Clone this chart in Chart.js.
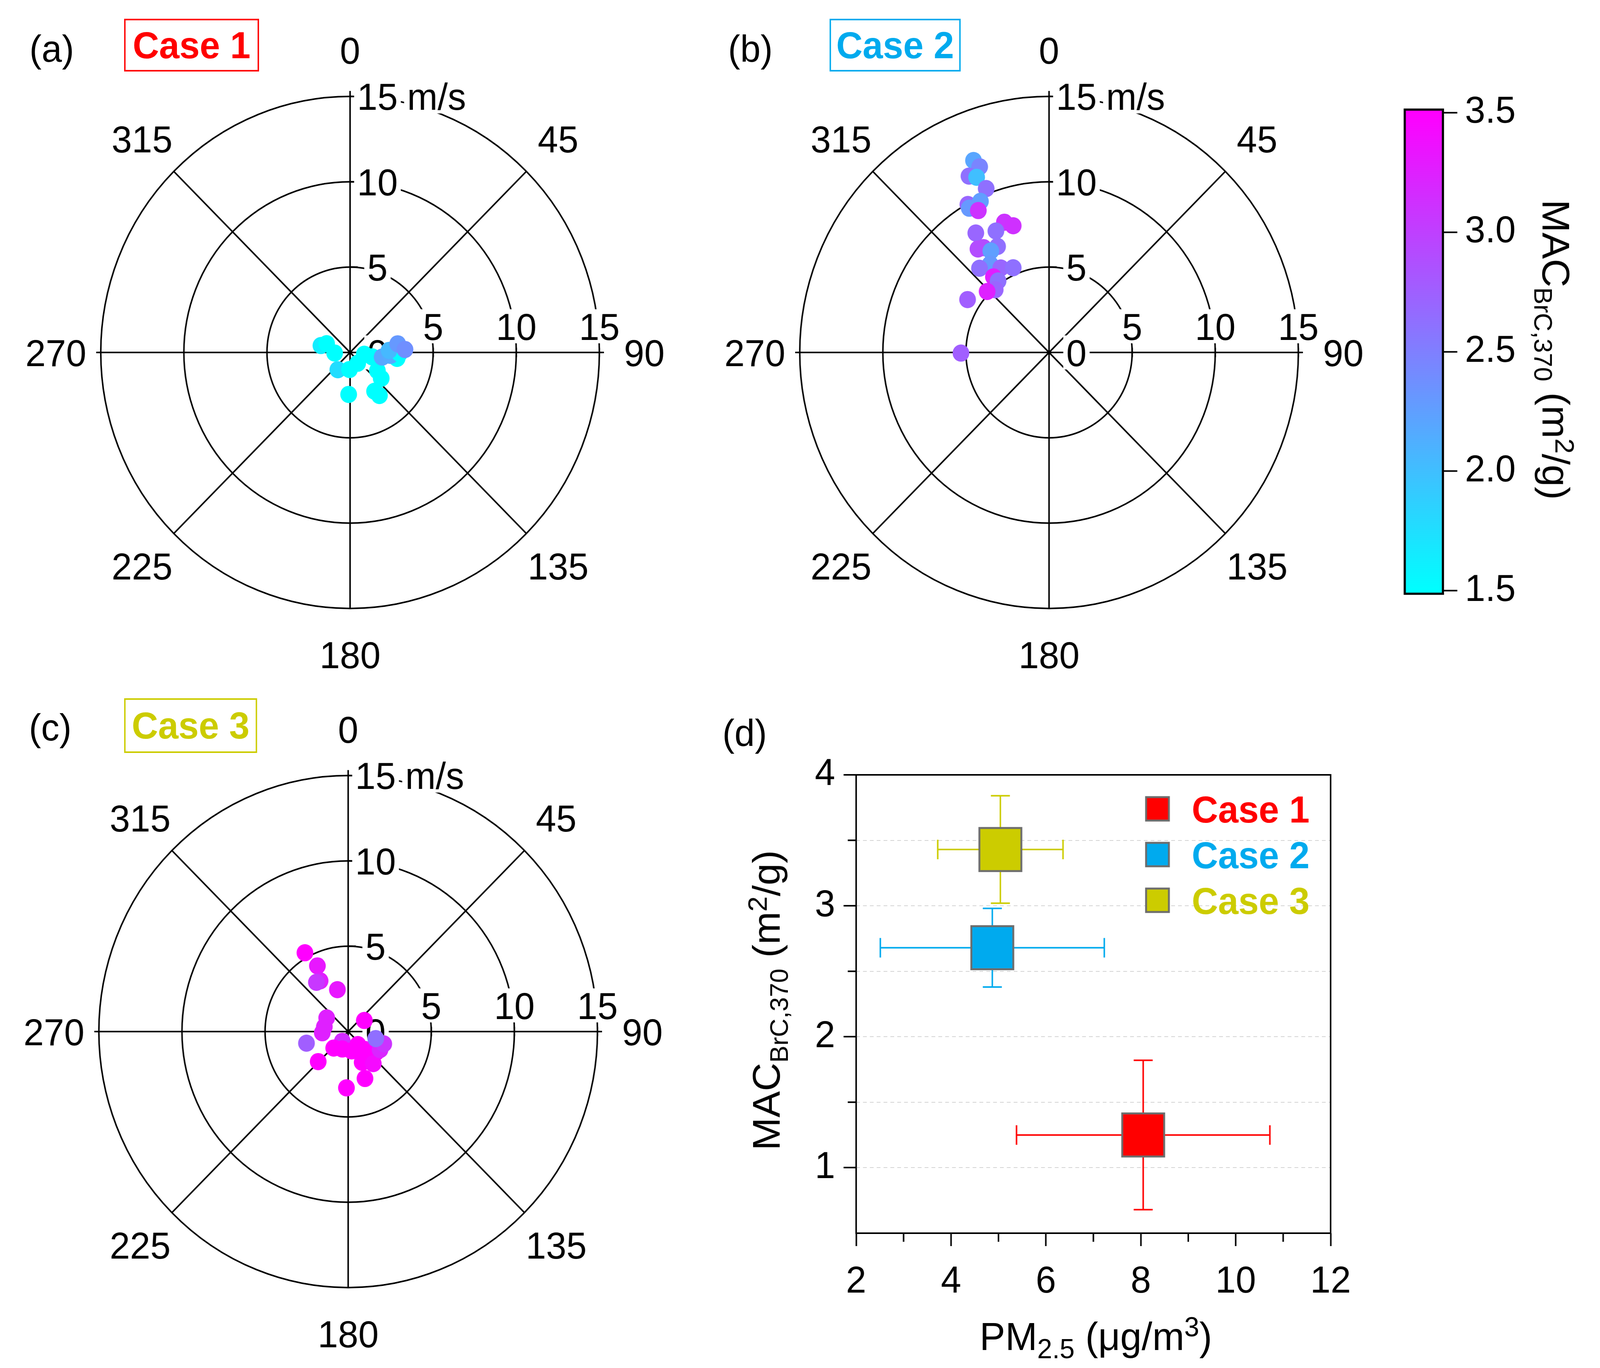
<!DOCTYPE html>
<html>
<head>
<meta charset="utf-8">
<script src="https://cdn.jsdelivr.net/npm/chart.js@4.4.1/dist/chart.umd.min.js"></script>
<style>
html, body { margin: 0; padding: 0; background: #fff; overflow: hidden; }
#page { position: relative; width: 4205px; height: 3501px; overflow: hidden; transform-origin: 0 0;
        font-family: "Liberation Sans", Arial, sans-serif; }
canvas { position: absolute; }
.lbl { position: absolute; font-size: 96px; line-height: 1; white-space: nowrap; color: #000; transform: translate(-50%, -50%); }
.title { font-size: 101px; }
.case { position: absolute; font-weight: bold; font-size: 96px; line-height: 1; border: 4px solid; box-sizing: border-box;
        display: flex; align-items: center; justify-content: center; }
sub, sup { font-size: 0.7em; line-height: 0; }
.mac sub { font-size: 0.65em; }
</style>
</head>
<body>
<div id="page">
  <canvas id="polarA" width="1760" height="1760" style="left:40px;top:22px"></canvas>
  <canvas id="polarB" width="1760" height="1760" style="left:1877px;top:22px"></canvas>
  <canvas id="polarC" width="1760" height="1760" style="left:35px;top:1760px"></canvas>
  <canvas id="scatterD" width="1600" height="1450" style="left:2000px;top:1900px"></canvas>
  <canvas id="colorbar" width="500" height="1400" style="left:3650px;top:200px"></canvas>

  <div class="lbl" style="left:136px;top:125px">(a)</div>
  <div class="case" style="left:326px;top:48px;width:355px;height:135px;color:#ff0000;border-color:#ff0000">Case 1</div>
  <div class="lbl" style="left:1972px;top:125px">(b)</div>
  <div class="case" style="left:2180px;top:48px;width:345px;height:135px;color:#00aaee;border-color:#00aaee">Case 2</div>
  <div class="lbl" style="left:132px;top:1862px">(c)</div>
  <div class="case" style="left:326px;top:1787px;width:350px;height:140px;color:#cccc00;border-color:#cccc00">Case 3</div>
  <div class="lbl" style="left:1957px;top:1876px">(d)</div>

  <div class="lbl title" style="left:2880px;top:3420px">PM<sub>2.5</sub> (μg/m<sup>3</sup>)</div>
  <div class="lbl title mac" style="left:2015px;top:2560px;transform:translate(-50%,-50%) rotate(-90deg)">MAC<sub>BrC,370</sub> (m<sup>2</sup>/g)</div>
  <div class="lbl title mac" style="left:4088px;top:895px;transform:translate(-50%,-50%) rotate(90deg)">MAC<sub>BrC,370</sub> (m<sup>2</sup>/g)</div>
</div>

<script>
// ---- data: wind direction (deg), wind speed (m/s), MAC_BrC,370 (m2/g) ----
// Case 1
const dirCase1 = [283, 290, 268, 216, 182, 144, 97, 101, 123, 129, 182, 147, 145, 97, 98, 94, 91, 87, 80, 87];
const wsCase1  = [1.80, 1.50, 0.93, 1.25, 1.00, 0.78, 0.86, 1.36, 1.96, 2.41, 2.46, 2.71, 3.08, 2.85, 1.95, 2.43, 2.98, 2.35, 2.91, 3.31];
const macCase1 = [1.64, 1.30, 1.20, 1.77, 1.10, 0.90, 1.00, 1.20, 0.80, 1.00, 0.70, 0.90, 0.60, 1.30, 2.20, 2.17, 1.40, 2.05, 2.30, 2.38];
// Case 2
const dirCase2 = [338, 339, 335, 337, 338.5, 330.6, 335, 330.4, 332.9, 340.6, 343.8, 327.8, 335.8, 333.5,
                  324.8, 327.3, 329.5, 325.6, 319.7, 329.6, 336.5, 322.9, 323.8, 318.6, 313.8, 302.3, 269.6];
const wsCase2  = [12.13, 11.65, 11.40, 11.15, 10.32, 9.95, 9.77, 9.72, 9.34, 8.09, 7.73, 8.27, 7.80, 6.94,
                  7.42, 7.30, 6.90, 6.27, 6.47, 5.74, 5.41, 5.55, 5.19, 4.90, 5.16, 5.80, 5.30];
const macCase2 = [2.20, 2.46, 2.62, 2.00, 2.62, 2.70, 2.26, 2.30, 3.10, 3.10, 3.12, 2.70, 2.62, 2.63,
                  2.90, 2.90, 2.25, 2.30, 2.62, 2.70, 2.62, 3.26, 2.62, 2.70, 3.24, 2.76, 2.76];
// Case 3
const dirCase3 = [330.6, 334.3, 330.4, 326.5, 345.2, 301.8, 281, 267.4, 254.8, 56.2, 211.6, 222, 199, 169.5,
                  142.6, 135.8, 125.4, 155, 141.2, 225.7, 159.8, 181.8, 118.9, 108.6, 103.9];
const wsCase3  = [5.30, 4.27, 3.42, 3.46, 2.54, 1.52, 1.46, 1.56, 2.60, 1.17, 0.67, 1.30, 1.08, 1.15,
                  0.96, 1.47, 2.08, 1.99, 2.41, 2.52, 2.93, 3.30, 2.19, 2.26, 1.71];
const macCase3 = [3.60, 3.32, 3.26, 3.07, 3.32, 3.25, 3.25, 3.25, 2.76, 3.60, 3.15, 3.70, 3.55, 3.80,
                  3.60, 3.70, 3.50, 3.90, 3.42, 3.60, 3.70, 3.80, 3.20, 3.10, 2.63];

// polar axes
const ringSpeeds = [5, 10, 15];
const dirLabels = [0, 45, 90, 135, 180, 225, 270, 315];

// (d) summary
const caseLabels = ['Case 1', 'Case 2', 'Case 3'];
const pmMean  = [8.05, 4.87, 5.04];
const pmSd    = [2.67, 2.36, 1.32];
const macMean = [1.25, 2.68, 3.43];
const macSd   = [0.57, 0.30, 0.41];
const caseColors = ['#ff0000', '#00aaee', '#cccc00'];

// colour bar
const cbMin = 1.5, cbMax = 3.5;
const cbTicks = [1.5, 2.0, 2.5, 3.0, 3.5];

// fit the 4205x3501 layout into whatever viewport we actually get
const page = document.getElementById('page');
const fitX = window.innerWidth / 4205, fitY = window.innerHeight / 3501;
if (Math.abs(fitX - 1) > 0.002 || Math.abs(fitY - 1) > 0.002) {
  page.style.transform = `scale(${fitX}, ${fitY})`;
}

Chart.defaults.font.family = '"Liberation Sans", Arial, sans-serif';
Chart.defaults.font.size = 96;
Chart.defaults.color = '#000';

const FONT = '96px "Liberation Sans", Arial, sans-serif';
const CAP = 69;

// cyan -> magenta map
function macColor(v) {
  const t = Math.min(1, Math.max(0, (v - cbMin) / (cbMax - cbMin)));
  return `rgb(${Math.round(255 * t)},${Math.round(255 * (1 - t))},255)`;
}

function boxedText(ctx, text, x, y, align) {
  const w = ctx.measureText(text).width;
  const left = align === 'left' ? x : x - w / 2;
  ctx.fillStyle = '#fff';
  ctx.fillRect(left - 8, y - CAP / 2 - 9, w + 16, CAP + 18);
  ctx.fillStyle = '#000';
  ctx.textAlign = 'left';
  ctx.fillText(text, left, y + CAP / 2);
}

const polarGrid = {
  id: 'polarGrid',
  beforeDatasetsDraw(chart) {
    const ctx = chart.ctx, sx = chart.scales.x, sy = chart.scales.y;
    const cx = sx.getPixelForValue(0), cy = sy.getPixelForValue(0);
    const rad = v => sx.getPixelForValue(v) - cx;
    const R = rad(ringSpeeds[ringSpeeds.length - 1]);
    ctx.save();
    ctx.strokeStyle = '#000';
    ctx.lineWidth = 4;
    ringSpeeds.forEach(s => {
      ctx.beginPath();
      ctx.arc(cx, cy, rad(s), 0, Math.PI * 2);
      ctx.stroke();
    });
    dirLabels.forEach(d => {
      const a = d * Math.PI / 180;
      let r1 = R;
      if (d === 0) r1 = R + 14;
      if (d === 90 || d === 270) r1 = R + 12;
      ctx.beginPath();
      ctx.moveTo(cx, cy);
      ctx.lineTo(cx + r1 * Math.sin(a), cy - r1 * Math.cos(a));
      ctx.stroke();
    });
    ringSpeeds.forEach(s => {
      const r = rad(s);
      ctx.beginPath();
      ctx.moveTo(cx + r, cy - 12); ctx.lineTo(cx + r, cy + 12);
      ctx.moveTo(cx, cy - r); ctx.lineTo(cx + 20, cy - r);
      ctx.stroke();
    });
    ctx.font = FONT;
    ctx.textBaseline = 'alphabetic';
    ctx.fillStyle = '#000';
    ctx.textAlign = 'center';
    dirLabels.forEach(d => {
      const a = d * Math.PI / 180;
      ctx.fillText(String(d), cx + (R + 118) * Math.sin(a), cy - (R + 118) * Math.cos(a) + CAP / 2);
    });
    boxedText(ctx, '0', cx + 72, cy);
    ringSpeeds.forEach(s => {
      boxedText(ctx, String(s), cx + 72, cy - rad(s));
      boxedText(ctx, String(s), cx + rad(s), cy - 67);
    });
    boxedText(ctx, 'm/s', cx + 150, cy - R, 'left');
    ctx.restore();
  }
};

const PX_PER_MS = 44.8;
function makePolar(id, dirs, ws, mac) {
  const canvas = document.getElementById(id);
  const lim = canvas.width / 2 / PX_PER_MS;
  const pts = dirs.map((d, i) => ({
    x: ws[i] * Math.sin(d * Math.PI / 180),
    y: ws[i] * Math.cos(d * Math.PI / 180)
  }));
  return new Chart(canvas, {
    type: 'scatter',
    data: {
      datasets: [{
        data: pts,
        pointBackgroundColor: mac.map(macColor),
        pointBorderWidth: 0,
        pointRadius: 22,
        pointHoverRadius: 22
      }]
    },
    options: {
      responsive: false,
      animation: false,
      layout: { padding: 0 },
      scales: {
        x: { type: 'linear', display: false, min: -lim, max: lim },
        y: { type: 'linear', display: false, min: -lim, max: lim }
      },
      plugins: { legend: { display: false }, tooltip: { enabled: false } }
    },
    plugins: [polarGrid]
  });
}

makePolar('polarA', dirCase1, wsCase1, macCase1);
makePolar('polarB', dirCase2, wsCase2, macCase2);
makePolar('polarC', dirCase3, wsCase3, macCase3);

// ---- (d) ----
const errorBars = {
  id: 'errorBars',
  beforeDatasetsDraw(chart) {
    const ctx = chart.ctx, sx = chart.scales.x, sy = chart.scales.y;
    ctx.save();
    ctx.lineWidth = 4;
    caseLabels.forEach((c, i) => {
      const x = sx.getPixelForValue(pmMean[i]), y = sy.getPixelForValue(macMean[i]);
      const xl = sx.getPixelForValue(pmMean[i] - pmSd[i]), xr = sx.getPixelForValue(pmMean[i] + pmSd[i]);
      const yt = sy.getPixelForValue(macMean[i] + macSd[i]), yb = sy.getPixelForValue(macMean[i] - macSd[i]);
      ctx.strokeStyle = caseColors[i];
      ctx.beginPath();
      ctx.moveTo(xl, y); ctx.lineTo(xr, y);
      ctx.moveTo(xl, y - 25); ctx.lineTo(xl, y + 25);
      ctx.moveTo(xr, y - 25); ctx.lineTo(xr, y + 25);
      ctx.moveTo(x, yt); ctx.lineTo(x, yb);
      ctx.moveTo(x - 25, yt); ctx.lineTo(x + 25, yt);
      ctx.moveTo(x - 25, yb); ctx.lineTo(x + 25, yb);
      ctx.stroke();
    });
    ctx.restore();
  },
  afterDatasetsDraw(chart) {
    const ctx = chart.ctx, a = chart.chartArea, sx = chart.scales.x, sy = chart.scales.y;
    ctx.save();
    // frame
    ctx.strokeStyle = '#000';
    ctx.lineWidth = 4;
    ctx.strokeRect(a.left, a.top, a.right - a.left, a.bottom - a.top);
    // minor ticks
    ctx.beginPath();
    [3, 5, 7, 9, 11].forEach(v => {
      const x = sx.getPixelForValue(v);
      ctx.moveTo(x, a.bottom); ctx.lineTo(x, a.bottom + 22);
    });
    [1.5, 2.5, 3.5].forEach(v => {
      const y = sy.getPixelForValue(v);
      ctx.moveTo(a.left, y); ctx.lineTo(a.left - 22, y);
    });
    ctx.stroke();
    // legend
    ctx.font = 'bold ' + FONT;
    ctx.textBaseline = 'alphabetic';
    ctx.textAlign = 'left';
    caseLabels.forEach((c, i) => {
      const yc = a.top + 87 + i * 117;
      ctx.fillStyle = caseColors[i];
      ctx.fillRect(a.left + 762, yc - 30, 60, 60);
      ctx.strokeStyle = '#6d6d6d';
      ctx.lineWidth = 5;
      ctx.strokeRect(a.left + 762, yc - 30, 60, 60);
      ctx.fillText(c, a.left + 882, yc + CAP / 2);
    });
    ctx.restore();
  }
};

new Chart(document.getElementById('scatterD'), {
  type: 'scatter',
  data: {
    datasets: caseLabels.map((c, i) => ({
      label: c,
      data: [{ x: pmMean[i], y: macMean[i] }],
      pointStyle: 'rect',
      pointRadius: 78,
      pointHoverRadius: 78,
      backgroundColor: caseColors[i],
      borderColor: '#6d6d6d',
      borderWidth: 5
    }))
  },
  options: {
    responsive: false,
    animation: false,
    layout: { padding: { left: 50, top: 69, right: 103, bottom: 0 } },
    scales: {
      x: {
        type: 'linear', min: 2, max: 12,
        afterFit: s => { s.height = 194; },
        ticks: { stepSize: 1, autoSkip: false, maxRotation: 0, padding: 35,
                 callback: v => (v % 2 === 0 ? v : '') },
        grid: { drawOnChartArea: false, tickLength: 33, tickWidth: 4,
                tickColor: c => (c.tick && c.tick.value % 2 === 0 ? '#000' : 'transparent') },
        border: { display: false }
      },
      y: {
        type: 'linear', min: 0.5, max: 4,
        afterFit: s => { s.width = 200; },
        ticks: { stepSize: 0.5, autoSkip: false, padding: 22,
                 callback: v => (Number.isInteger(v) ? v : '') },
        grid: { lineWidth: 2, tickLength: 33, tickWidth: 4,
                color: c => (c.tick && (c.tick.value === 0.5 || c.tick.value === 4) ? 'transparent' : '#d4d4d4'),
                tickColor: c => (c.tick && Number.isInteger(c.tick.value) ? '#000' : 'transparent') },
        border: { display: false, dash: [10, 8] }
      }
    },
    plugins: { legend: { display: false }, tooltip: { enabled: false } }
  },
  plugins: [errorBars]
});

// ---- colour bar ----
const cbPad = 0.017;
new Chart(document.getElementById('colorbar'), {
  type: 'bar',
  data: {
    labels: [''],
    datasets: [{
      data: [[cbMin - cbPad, cbMax + cbPad]],
      backgroundColor: c => {
        const ch = c.chart;
        if (!ch.chartArea) return macColor(cbMin);
        const y = ch.scales.y;
        const g = ch.ctx.createLinearGradient(0, y.getPixelForValue(cbMin), 0, y.getPixelForValue(cbMax));
        g.addColorStop(0, macColor(cbMin));
        g.addColorStop(1, macColor(cbMax));
        return g;
      },
      borderColor: '#000',
      borderWidth: 6,
      borderSkipped: false,
      barPercentage: 1,
      categoryPercentage: 1
    }]
  },
  options: {
    responsive: false,
    animation: false,
    layout: { padding: { left: 39, top: 53, right: 0, bottom: 66 } },
    scales: {
      x: { display: false },
      y: {
        position: 'right', min: cbMin - cbPad, max: cbMax + cbPad,
        afterBuildTicks: s => { s.ticks = cbTicks.map(v => ({ value: v })); },
        afterFit: s => { s.width = 355; },
        ticks: { padding: 20, callback: v => Number(v).toFixed(1) },
        grid: { drawOnChartArea: false, tickLength: 35, tickWidth: 4, tickColor: '#000' },
        border: { display: false }
      }
    },
    plugins: { legend: { display: false }, tooltip: { enabled: false } }
  }
});
</script>
</body>
</html>
